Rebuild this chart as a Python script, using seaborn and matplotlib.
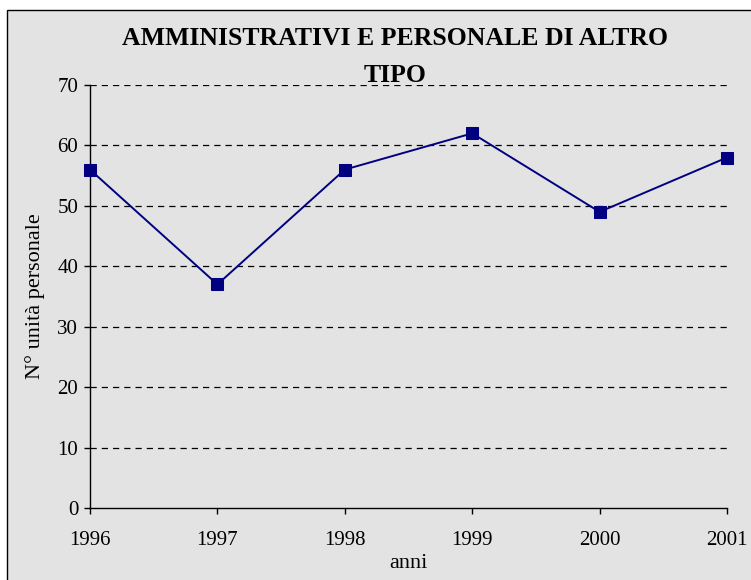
import matplotlib
matplotlib.use("Agg")
import matplotlib.pyplot as plt
from matplotlib.patches import Rectangle
import seaborn as sns
import pandas as pd

years = [1996, 1997, 1998, 1999, 2000, 2001]
values = [56, 37, 56, 62, 49, 58]
y_ticks = [0, 10, 20, 30, 40, 50, 60, 70]
title_lines = ["AMMINISTRATIVI E PERSONALE DI ALTRO", "TIPO"]
xlabel = "anni"
ylabel = "N° unità personale"

sns.set_style("white")
plt.rcParams['font.family'] = ['Liberation Serif', 'DejaVu Serif']
plt.rcParams['text.color'] = 'black'
plt.rcParams['axes.labelcolor'] = 'black'
plt.rcParams['xtick.color'] = 'black'
plt.rcParams['ytick.color'] = 'black'

df = pd.DataFrame({"anno": years, "valore": values})

fig = plt.figure(figsize=(7.51, 5.80), dpi=100)
fig.patch.set_facecolor("white")
bgax = fig.add_axes([0, 0, 1, 1], zorder=0)
bgax.set_xlim(0, 751)
bgax.set_ylim(0, 580)
bgax.axis("off")
bgax.add_patch(Rectangle((7, -5), 760, 575, facecolor="#e3e3e3", edgecolor="black",
                         linewidth=1.0))

ax = fig.add_axes([90/751, 72/580, (727-90)/751, (508-85)/580], zorder=2)
ax.set_facecolor("none")

sns.lineplot(data=df, x="anno", y="valore", ax=ax, color="#000080", linewidth=1.4,
             marker="s", markersize=8, markeredgecolor="#000080", markerfacecolor="#000080",
             clip_on=False, zorder=5)

ax.set_xlim(years[0], years[-1])
ax.set_ylim(0, 70)
ax.set_xticks(years)
ax.set_xticklabels([str(y) for y in years])
ax.set_yticks(y_ticks)
for t in y_ticks[1:]:
    ax.axhline(t, color="black", linewidth=0.9, linestyle=(0, (5, 4)), zorder=1)

for s in ["top", "right"]:
    ax.spines[s].set_visible(False)
for s in ["left", "bottom"]:
    ax.spines[s].set_color("black")
    ax.spines[s].set_linewidth(1.0)
ax.tick_params(axis="both", direction="out", length=4.5, width=1.0, color="black",
               labelsize=15, left=True, bottom=True)
ax.tick_params(axis="x", pad=12)
ax.tick_params(axis="y", pad=4)

ax.set_xlabel(xlabel, fontsize=16, labelpad=3)
ax.set_ylabel(ylabel, fontsize=16, labelpad=9)

fig.text(395/751, 1 - 45/580, title_lines[0], ha="center", va="baseline", fontsize=18.5,
         fontweight="bold")
fig.text(395/751, 1 - 82/580, title_lines[1], ha="center", va="baseline", fontsize=18.5,
         fontweight="bold")

fig.savefig("out.png", dpi=100)
